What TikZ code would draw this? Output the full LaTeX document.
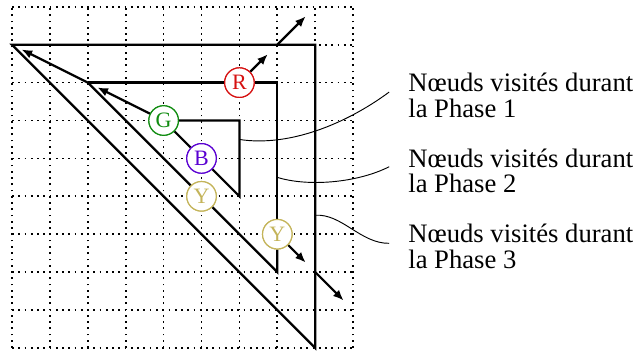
\documentclass[tikz,border=0pt]{standalone}
\usepackage{fontspec}
\setmainfont{Liberation Serif}
\usetikzlibrary{arrows.meta}
\definecolor{cR}{RGB}{214,16,16}
\definecolor{cG}{RGB}{16,140,16}
\definecolor{cB}{RGB}{90,0,210}
\definecolor{cY}{RGB}{196,180,90}
\begin{document}
\begin{tikzpicture}[
  griddot/.style={line width=1.3pt, dash pattern=on 1.3pt off 3.4pt},
  thickline/.style={line width=1.7pt},
  arr/.style={line width=1.7pt, -{Latex[length=8pt,width=6.5pt]}},
  conn/.style={line width=0.7pt},
  visit/.style={circle, draw=#1, text=#1, fill=white, minimum size=0.78cm,
                inner sep=0pt, line width=0.9pt, font=\fontsize{16.5}{16.5}\selectfont},
  phaselabel/.style={anchor=base west, inner sep=0pt, font=\fontsize{20}{20}\selectfont}
]
\useasboundingbox (-0.317,-0.106) rectangle (16.49,9.18);
\draw[griddot] (0,0) grid (9,9);

% corners
\coordinate (o1) at (0,8);
\coordinate (o2) at (8,8);
\coordinate (o3) at (8,0);
\coordinate (m1) at (2,7);
\coordinate (m2) at (7,7);
\coordinate (m3) at (7,2);
\coordinate (i2) at (6,6);
\coordinate (i3) at (6,4);
\coordinate (oTop) at (7,8);
\coordinate (oRight) at (8,2);
% arrow tips
\coordinate (tG) at (2.25,6.875);
\coordinate (tM) at (0.25,7.875);
\coordinate (tR) at (6.75,7.75);
\coordinate (tO) at (7.75,8.75);
\coordinate (tY) at (7.75,2.25);
\coordinate (tO2) at (8.75,1.25);
% connector ends
\coordinate (c1s) at (6,5.5);
\coordinate (c1e) at (9.95,6.75);
\coordinate (c2s) at (7,4.5);
\coordinate (c2e) at (9.95,4.78);
\coordinate (c3s) at (8,3.5);
\coordinate (c3e) at (9.95,2.76);

% nodes
\node[visit=cR] (R) at (6,7) {R};
\node[visit=cG] (G) at (4,6) {G};
\node[visit=cB] (B) at (5,5) {B};
\node[visit=cY] (Y1) at (5,4) {Y};
\node[visit=cY] (Y2) at (7,3) {Y};

% outer
\draw[thickline] (o1) -- (o2) -- (o3) -- cycle;
% middle
\draw[thickline] (m1) -- (R);
\draw[thickline] (R) -- (m2) -- (Y2);
\draw[thickline] (Y2) -- (m3) -- (Y1);
\draw[thickline] (Y1) -- (m1);
% inner
\draw[thickline] (G) -- (i2) -- (i3) -- (B);
\draw[thickline] (B) -- (G);
% arrows
\draw[arr] (G) -- (tG);
\draw[arr] (m1) -- (tM);
\draw[arr] (R) -- (tR);
\draw[arr] (oTop) -- (tO);
\draw[arr] (Y2) -- (tY);
\draw[arr] (oRight) -- (tO2);

% redraw nodes on top
\node[visit=cR] at (R) {R};
\node[visit=cG] at (G) {G};
\node[visit=cB] at (B) {B};
\node[visit=cY] at (Y1) {Y};
\node[visit=cY] at (Y2) {Y};

% connectors
\draw[conn] (c1s) .. controls (7.3,5.3) and (8.8,5.9) .. (c1e);
\draw[conn] (c2s) .. controls (7.8,4.25) and (9.1,4.35) .. (c2e);
\draw[conn] (c3s) .. controls (8.7,3.55) and (9.2,2.75) .. (c3e);

% labels
\node[phaselabel] (l1a) at (10.45,6.755) {Nœuds visités durant};
\node[phaselabel] (l1b) at (10.45,6.09) {la Phase 1};
\node[phaselabel] (l2a) at (10.45,4.75) {Nœuds visités durant};
\node[phaselabel] (l2b) at (10.45,4.09) {la Phase 2};
\node[phaselabel] (l3a) at (10.45,2.77) {Nœuds visités durant};
\node[phaselabel] (l3b) at (10.45,2.10) {la Phase 3};
\end{tikzpicture}
\end{document}
